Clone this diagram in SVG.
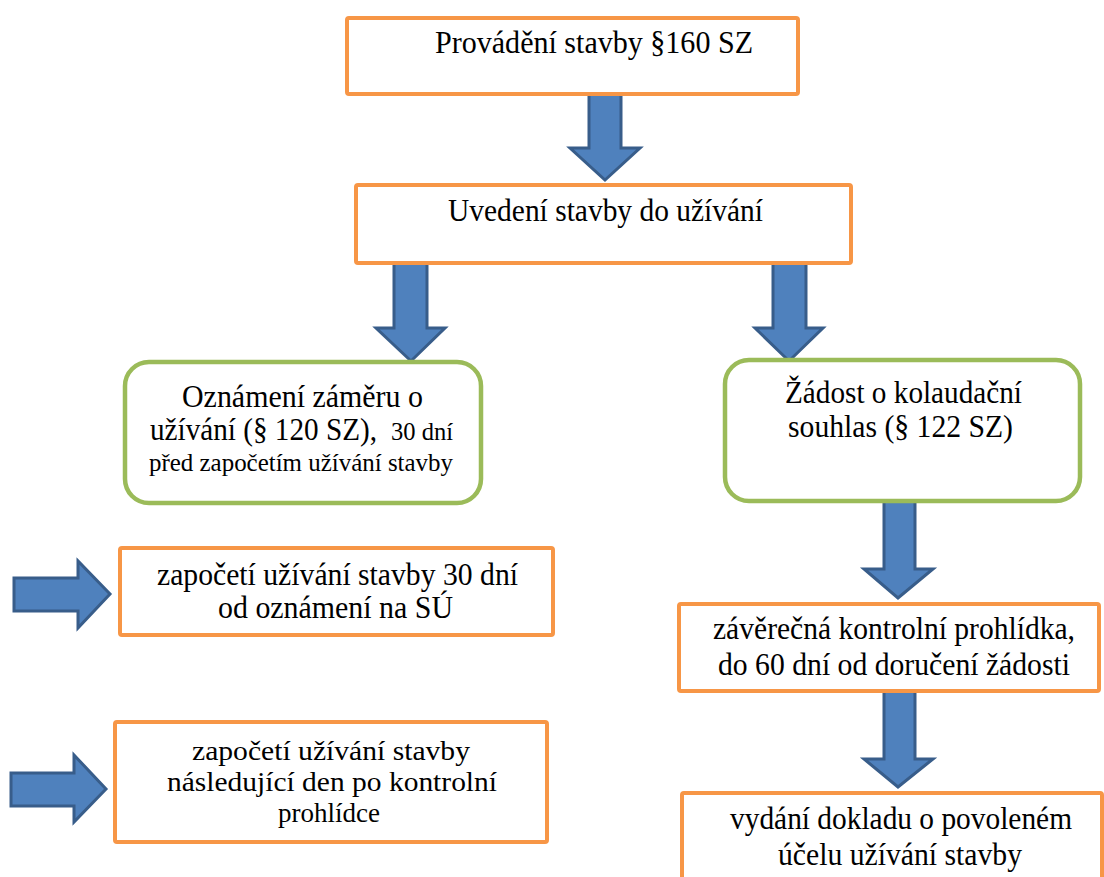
<svg xmlns="http://www.w3.org/2000/svg" width="1104" height="877" viewBox="0 0 1104 877">
<style>
.bo{fill:#fff;stroke:#F79646;stroke-width:4}
.bg{fill:#fff;stroke:#9BBB59;stroke-width:4.5}
.ar{fill:#4F81BD;stroke:#385D8A;stroke-width:3;stroke-linejoin:miter}
.t{font-family:'Liberation Serif',serif;font-size:31px;fill:#000}
.t .s{font-size:26px}
.t .m{font-size:28px}
</style>
<rect width="1104" height="877" fill="#fff"/>
<g id="connectors">
<polygon class="ar" points="589,94 621,94 621,148 640,148 605,180 570,148 589,148"/>
<polygon class="ar" points="394,263 427,263 427,328 445,328 411,361 376,328 394,328"/>
<polygon class="ar" points="773,263 806,263 806,328 823,328 789,361 755,328 773,328"/>
<polygon class="ar" points="884,501 915,501 915,569 933,569 898,598 864,569 884,569"/>
<polygon class="ar" points="884,691 915,691 915,759 933,759 898,787 864,759 884,759"/>
<polygon class="ar" points="14,578 78,578 78,561 110,594 78,628 78,611 14,611"/>
<polygon class="ar" points="11,773 74,773 74,755 106,789 74,822 74,806 11,806"/>
</g>
<g class="t">
<g id="n1"><rect class="bo" x="347" y="18" width="451" height="76" rx="2"/>
<text x="435" y="53" textLength="318" lengthAdjust="spacingAndGlyphs">Provádění stavby §160 SZ</text></g>
<g id="n2"><rect class="bo" x="356" y="185" width="495" height="78" rx="2"/>
<text x="448" y="221" textLength="315" lengthAdjust="spacingAndGlyphs">Uvedení stavby do užívání</text></g>
<g id="n3"><rect class="bg" x="125" y="362" width="356" height="141" rx="24"/>
<text x="182" y="407" textLength="241" lengthAdjust="spacingAndGlyphs">Oznámení záměru o</text>
<text x="150" y="440" textLength="227" lengthAdjust="spacingAndGlyphs">užívání (§ 120 SZ),</text>
<text class="s" x="391" y="440" textLength="62" lengthAdjust="spacingAndGlyphs">30 dní</text>
<text class="s" x="149" y="471" textLength="304" lengthAdjust="spacingAndGlyphs">před započetím užívání stavby</text></g>
<g id="n4"><rect class="bg" x="725" y="360" width="355" height="141" rx="24"/>
<text x="785" y="403" textLength="237" lengthAdjust="spacingAndGlyphs">Žádost o kolaudační</text>
<text x="788" y="437" textLength="225" lengthAdjust="spacingAndGlyphs">souhlas (§ 122 SZ)</text></g>
<g id="n5"><rect class="bo" x="120" y="548" width="433" height="87" rx="2"/>
<text x="157" y="585" textLength="361" lengthAdjust="spacingAndGlyphs">započetí užívání stavby 30 dní</text>
<text x="218" y="618" textLength="235" lengthAdjust="spacingAndGlyphs">od oznámení na SÚ</text></g>
<g id="n6"><rect class="bo" x="115" y="722" width="432" height="120" rx="2"/>
<text class="m" x="192" y="760" textLength="278" lengthAdjust="spacingAndGlyphs">započetí užívání stavby</text>
<text class="m" x="167" y="791" textLength="330" lengthAdjust="spacingAndGlyphs">následující den po kontrolní</text>
<text class="m" x="278" y="822" textLength="102" lengthAdjust="spacingAndGlyphs">prohlídce</text></g>
<g id="n7"><rect class="bo" x="679" y="604" width="420" height="87" rx="2"/>
<text x="713" y="639" textLength="362" lengthAdjust="spacingAndGlyphs">závěrečná kontrolní prohlídka,</text>
<text x="718" y="675" textLength="352" lengthAdjust="spacingAndGlyphs">do 60 dní od doručení žádosti</text></g>
<g id="n8"><rect class="bo" x="682" y="793" width="420" height="100" rx="2"/>
<text x="730" y="829" textLength="342" lengthAdjust="spacingAndGlyphs">vydání dokladu o povoleném</text>
<text x="778" y="865" textLength="244" lengthAdjust="spacingAndGlyphs">účelu užívání stavby</text></g>
</g>
</svg>
